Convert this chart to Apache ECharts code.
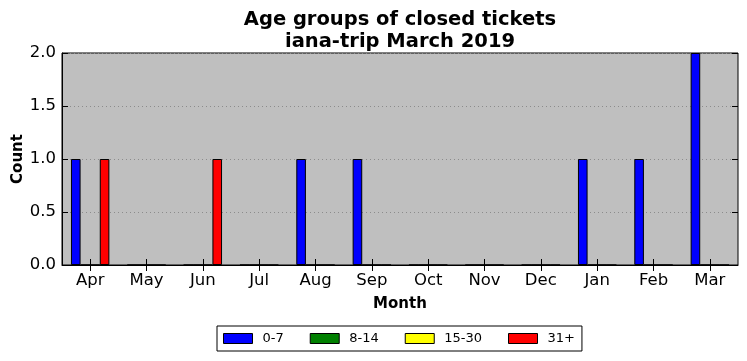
<!DOCTYPE html>
<html><head><meta charset="utf-8">
<script src="https://cdn.jsdelivr.net/npm/echarts@6/dist/echarts.min.js"></script>
<style>html,body{margin:0;padding:0;background:#fff}#c{width:747px;height:361px}</style>
</head><body><div id="c"></div>
<script>
const months = ['Apr','May','Jun','Jul','Aug','Sep','Oct','Nov','Dec','Jan','Feb','Mar'];
const seriesNames = ['0-7','8-14','15-30','31+'];
const seriesColors = ['#0000ff','#008000','#ffff00','#ff0000'];
const v0_7   = [1,0,0,0,1,1,0,0,0,1,1,2];
const v8_14  = [0,0,0,0,0,0,0,0,0,0,0,0];
const v15_30 = [0,0,0,0,0,0,0,0,0,0,0,0];
const v31p   = [1,0,1,0,0,0,0,0,0,0,0,0];
const yTicks = [0,0.5,1,1.5,2];
const values = [v0_7, v8_14, v15_30, v31p];

const font = 'DejaVu Sans';
const chart = echarts.init(document.getElementById('c'), null, {renderer:'canvas'});
chart.setOption({
  animation:false,
  textStyle:{fontFamily:font},
  title:{
    text:'Age groups of closed tickets\niana-trip March 2019',
    left:400, top:9, padding:0, textAlign:'center',
    textStyle:{fontFamily:font,fontSize:19.5,fontWeight:'bold',color:'#000',lineHeight:22}
  },
  legend:{
    data:seriesNames, left:217, top:326, orient:'horizontal',
    icon:'rect',
    itemWidth:29, itemHeight:10, itemGap:26,
    backgroundColor:'#fff', borderColor:'#000', borderWidth:1, borderRadius:0,
    padding:[6,7,6,6],
    textStyle:{fontFamily:font,fontSize:13,color:'#000',padding:[0,0,0,5]},
    itemStyle:{borderColor:'#000',borderWidth:1}
  },
  grid:{left:62,right:9,top:53,bottom:96,show:true,backgroundColor:'#bfbfbf',borderColor:'#000',borderWidth:1,containLabel:false,outerBoundsMode:'none'},
  xAxis:[{
    type:'category', data:months, boundaryGap:true,
    name:'Month', nameLocation:'middle', nameGap:32, nameMoveOverlap:false,
    nameTextStyle:{fontFamily:font,fontSize:15,fontWeight:'bold',color:'#000'},
    axisLine:{show:true,lineStyle:{color:'#000'}},
    axisTick:{show:true,inside:true,length:6,alignWithLabel:true,lineStyle:{color:'#000'}},
    axisLabel:{fontFamily:font,fontSize:16.5,color:'#000',margin:7}
  },{
    type:'category', data:months, position:'top', boundaryGap:true,
    axisLine:{show:false},
    axisTick:{show:true,inside:true,length:6,alignWithLabel:true,lineStyle:{color:'#000'}},
    axisLabel:{show:false}
  }],
  yAxis:[{
    type:'value', min:0, max:2, interval:0.5,
    name:'Count', nameLocation:'middle', nameGap:36, nameRotate:90, nameMoveOverlap:false,
    nameTextStyle:{fontFamily:font,fontSize:15,fontWeight:'bold',color:'#000'},
    axisLine:{show:true,lineStyle:{color:'#000'}},
    axisTick:{show:true,inside:true,length:6,lineStyle:{color:'#000'}},
    axisLabel:{fontFamily:font,fontSize:16.5,color:'#000',margin:6,formatter:v=>v.toFixed(1)},
    splitLine:{show:true,lineStyle:{color:'#8c8c8c',type:[1,3],width:1}}
  },{
    type:'value', min:0, max:2, interval:0.5, position:'right',
    axisLine:{show:false},
    axisTick:{show:true,inside:true,length:6,lineStyle:{color:'#000'}},
    axisLabel:{show:false}, splitLine:{show:false}
  }],
  series: seriesNames.map((n,i)=>({
    name:n, type:'bar', data:values[i], xAxisIndex:0, yAxisIndex:0,
    barWidth:9.6, barGap:'0%',
    itemStyle:{color:seriesColors[i],borderColor:'#000',borderWidth:1}
  }))
});
</script></body></html>
